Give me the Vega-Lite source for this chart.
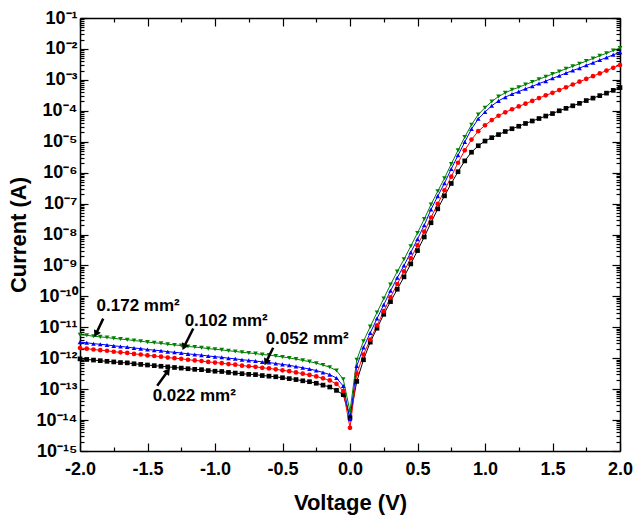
{
  "$schema": "https://vega.github.io/schema/vega-lite/v6.json",
  "width": 540,
  "height": 433,
  "autosize": "none",
  "padding": {"left": 80, "top": 18, "right": 19, "bottom": 74},
  "background": "white",
  "config": {
    "view": {"stroke": null},
    "font": "Liberation Sans",
    "axis": {
      "grid": false,
      "domainColor": "black",
      "domainWidth": 1.5,
      "tickColor": "black",
      "tickWidth": 1.2,
      "labelFont": "Liberation Sans",
      "labelFontWeight": "bold",
      "labelFontSize": 18,
      "labelColor": "black",
      "labelFlush": false,
      "labelOverlap": false,
      "titleFont": "Liberation Sans",
      "titleFontWeight": "bold",
      "titleFontSize": 22,
      "titleColor": "black"
    }
  },
  "datasets": {
    "iv": [
      {"v": -2.00, "k": 9.55e-13, "r": 2.14e-12, "b": 3.31e-12, "g": 5.75e-12},
      {"v": -1.95, "k": 9.12e-13, "r": 2.04e-12, "b": 3.16e-12, "g": 5.50e-12},
      {"v": -1.90, "k": 8.71e-13, "r": 1.91e-12, "b": 2.95e-12, "g": 5.13e-12},
      {"v": -1.85, "k": 8.32e-13, "r": 1.82e-12, "b": 2.82e-12, "g": 4.90e-12},
      {"v": -1.80, "k": 7.94e-13, "r": 1.74e-12, "b": 2.69e-12, "g": 4.68e-12},
      {"v": -1.75, "k": 7.59e-13, "r": 1.62e-12, "b": 2.51e-12, "g": 4.37e-12},
      {"v": -1.70, "k": 7.24e-13, "r": 1.55e-12, "b": 2.40e-12, "g": 4.17e-12},
      {"v": -1.65, "k": 7.08e-13, "r": 1.48e-12, "b": 2.29e-12, "g": 3.98e-12},
      {"v": -1.60, "k": 6.61e-13, "r": 1.38e-12, "b": 2.14e-12, "g": 3.72e-12},
      {"v": -1.55, "k": 6.31e-13, "r": 1.32e-12, "b": 2.04e-12, "g": 3.55e-12},
      {"v": -1.50, "k": 6.03e-13, "r": 1.23e-12, "b": 1.91e-12, "g": 3.31e-12},
      {"v": -1.45, "k": 5.75e-13, "r": 1.18e-12, "b": 1.82e-12, "g": 3.16e-12},
      {"v": -1.40, "k": 5.50e-13, "r": 1.12e-12, "b": 1.74e-12, "g": 3.02e-12},
      {"v": -1.35, "k": 5.25e-13, "r": 1.05e-12, "b": 1.62e-12, "g": 2.82e-12},
      {"v": -1.30, "k": 5.01e-13, "r": 1.00e-12, "b": 1.55e-12, "g": 2.69e-12},
      {"v": -1.25, "k": 4.79e-13, "r": 9.55e-13, "b": 1.48e-12, "g": 2.57e-12},
      {"v": -1.20, "k": 4.57e-13, "r": 8.91e-13, "b": 1.38e-12, "g": 2.40e-12},
      {"v": -1.15, "k": 4.37e-13, "r": 8.51e-13, "b": 1.32e-12, "g": 2.29e-12},
      {"v": -1.10, "k": 4.27e-13, "r": 8.13e-13, "b": 1.26e-12, "g": 2.19e-12},
      {"v": -1.05, "k": 3.98e-13, "r": 7.59e-13, "b": 1.18e-12, "g": 2.04e-12},
      {"v": -1.00, "k": 3.80e-13, "r": 7.24e-13, "b": 1.12e-12, "g": 1.95e-12},
      {"v": -0.95, "k": 3.72e-13, "r": 6.92e-13, "b": 1.07e-12, "g": 1.86e-12},
      {"v": -0.90, "k": 3.47e-13, "r": 6.46e-13, "b": 1.00e-12, "g": 1.74e-12},
      {"v": -0.85, "k": 3.31e-13, "r": 6.17e-13, "b": 9.55e-13, "g": 1.66e-12},
      {"v": -0.80, "k": 3.16e-13, "r": 5.75e-13, "b": 8.91e-13, "g": 1.55e-12},
      {"v": -0.75, "k": 3.02e-13, "r": 5.50e-13, "b": 8.51e-13, "g": 1.48e-12},
      {"v": -0.70, "k": 2.95e-13, "r": 5.25e-13, "b": 8.13e-13, "g": 1.41e-12},
      {"v": -0.65, "k": 2.75e-13, "r": 4.90e-13, "b": 7.59e-13, "g": 1.32e-12},
      {"v": -0.60, "k": 2.63e-13, "r": 4.68e-13, "b": 7.24e-13, "g": 1.26e-12},
      {"v": -0.55, "k": 2.51e-13, "r": 4.37e-13, "b": 6.76e-13, "g": 1.18e-12},
      {"v": -0.50, "k": 2.34e-13, "r": 4.07e-13, "b": 6.31e-13, "g": 1.10e-12},
      {"v": -0.45, "k": 2.19e-13, "r": 3.80e-13, "b": 5.89e-13, "g": 1.02e-12},
      {"v": -0.40, "k": 2.04e-13, "r": 3.47e-13, "b": 5.37e-13, "g": 9.33e-13},
      {"v": -0.35, "k": 1.86e-13, "r": 3.16e-13, "b": 4.90e-13, "g": 8.51e-13},
      {"v": -0.30, "k": 1.74e-13, "r": 2.88e-13, "b": 4.47e-13, "g": 7.76e-13},
      {"v": -0.25, "k": 1.55e-13, "r": 2.57e-13, "b": 3.98e-13, "g": 6.92e-13},
      {"v": -0.20, "k": 1.35e-13, "r": 2.24e-13, "b": 3.47e-13, "g": 6.03e-13},
      {"v": -0.15, "k": 1.17e-13, "r": 1.91e-13, "b": 2.95e-13, "g": 5.13e-13},
      {"v": -0.10, "k": 9.12e-14, "r": 1.48e-13, "b": 2.29e-13, "g": 3.98e-13},
      {"v": -0.05, "k": 6.61e-14, "r": 8.71e-14, "b": 1.26e-13, "g": 2.09e-13},
      {"v": 0.00, "k": 1.2e-14, "r": 5.62e-15, "b": 1.07e-14, "g": 1.91e-14},
      {"v": 0.05, "k": 1.78e-13, "r": 3.16e-13, "b": 5.62e-13, "g": 8.91e-13},
      {"v": 0.10, "k": 8.91e-13, "r": 1.32e-12, "b": 2.24e-12, "g": 3.55e-12},
      {"v": 0.15, "k": 3.31e-12, "r": 3.98e-12, "b": 6.61e-12, "g": 1.05e-11},
      {"v": 0.20, "k": 9.33e-12, "r": 1.15e-11, "b": 1.91e-11, "g": 3.02e-11},
      {"v": 0.25, "k": 2.63e-11, "r": 3.31e-11, "b": 5.37e-11, "g": 8.51e-11},
      {"v": 0.30, "k": 6.76e-11, "r": 9.33e-11, "b": 1.51e-10, "g": 2.40e-10},
      {"v": 0.35, "k": 1.70e-10, "r": 2.51e-10, "b": 3.98e-10, "g": 6.31e-10},
      {"v": 0.40, "k": 4.27e-10, "r": 6.46e-10, "b": 1.00e-9, "g": 1.58e-9},
      {"v": 0.45, "k": 1.12e-9, "r": 1.70e-9, "b": 2.63e-9, "g": 4.17e-9},
      {"v": 0.50, "k": 3.02e-9, "r": 4.47e-9, "b": 7.08e-9, "g": 1.12e-8},
      {"v": 0.55, "k": 8.32e-9, "r": 1.23e-8, "b": 2.00e-8, "g": 3.16e-8},
      {"v": 0.60, "k": 2.40e-8, "r": 3.55e-8, "b": 6.46e-8, "g": 9.33e-8},
      {"v": 0.65, "k": 6.76e-8, "r": 9.77e-8, "b": 1.74e-7, "g": 2.51e-7},
      {"v": 0.70, "k": 1.78e-7, "r": 2.69e-7, "b": 4.57e-7, "g": 6.61e-7},
      {"v": 0.75, "k": 4.47e-7, "r": 7.41e-7, "b": 1.32e-6, "g": 1.91e-6},
      {"v": 0.80, "k": 1.07e-6, "r": 2.09e-6, "b": 3.63e-6, "g": 5.25e-6},
      {"v": 0.85, "k": 2.40e-6, "r": 5.25e-6, "b": 9.77e-6, "g": 1.41e-5},
      {"v": 0.90, "k": 4.57e-6, "r": 1.17e-5, "b": 2.57e-5, "g": 3.55e-5},
      {"v": 0.95, "k": 7.41e-6, "r": 2.19e-5, "b": 5.50e-5, "g": 7.59e-5},
      {"v": 1.00, "k": 1.05e-5, "r": 3.39e-5, "b": 9.12e-5, "g": 1.26e-4},
      {"v": 1.05, "k": 1.35e-5, "r": 5.01e-5, "b": 1.45e-4, "g": 2.00e-4},
      {"v": 1.10, "k": 1.70e-5, "r": 6.92e-5, "b": 2.09e-4, "g": 2.88e-4},
      {"v": 1.15, "k": 2.14e-5, "r": 8.91e-5, "b": 2.75e-4, "g": 3.80e-4},
      {"v": 1.20, "k": 2.63e-5, "r": 1.12e-4, "b": 3.47e-4, "g": 4.79e-4},
      {"v": 1.25, "k": 3.16e-5, "r": 1.38e-4, "b": 4.17e-4, "g": 5.75e-4},
      {"v": 1.30, "k": 3.89e-5, "r": 1.70e-4, "b": 5.13e-4, "g": 7.08e-4},
      {"v": 1.35, "k": 4.68e-5, "r": 2.09e-4, "b": 6.17e-4, "g": 8.51e-4},
      {"v": 1.40, "k": 5.62e-5, "r": 2.57e-4, "b": 7.59e-4, "g": 1.05e-3},
      {"v": 1.45, "k": 6.76e-5, "r": 3.16e-4, "b": 9.12e-4, "g": 1.26e-3},
      {"v": 1.50, "k": 8.13e-5, "r": 3.80e-4, "b": 1.12e-3, "g": 1.55e-3},
      {"v": 1.55, "k": 1.00e-4, "r": 4.68e-4, "b": 1.35e-3, "g": 1.86e-3},
      {"v": 1.60, "k": 1.20e-4, "r": 5.75e-4, "b": 1.66e-3, "g": 2.29e-3},
      {"v": 1.65, "k": 1.45e-4, "r": 7.08e-4, "b": 2.00e-3, "g": 2.75e-3},
      {"v": 1.70, "k": 1.74e-4, "r": 8.71e-4, "b": 2.40e-3, "g": 3.31e-3},
      {"v": 1.75, "k": 2.14e-4, "r": 1.07e-3, "b": 2.95e-3, "g": 4.07e-3},
      {"v": 1.80, "k": 2.57e-4, "r": 1.32e-3, "b": 3.55e-3, "g": 4.90e-3},
      {"v": 1.85, "k": 3.09e-4, "r": 1.62e-3, "b": 4.37e-3, "g": 6.03e-3},
      {"v": 1.90, "k": 3.72e-4, "r": 2.00e-3, "b": 5.25e-3, "g": 7.24e-3},
      {"v": 1.95, "k": 4.57e-4, "r": 2.45e-3, "b": 6.46e-3, "g": 8.91e-3},
      {"v": 2.00, "k": 5.62e-4, "r": 3.02e-3, "b": 7.76e-3, "g": 1.07e-2}
    ],
    "notes": [
      {"t": "0.172 mm²", "tx": -1.569, "ty": 5.06e-11, "ax": -1.828, "ay": 1.91e-11, "hx": -1.882, "hy": 6.05e-12},
      {"t": "0.102 mm²", "tx": -0.917, "ty": 1.65e-11, "ax": -1.161, "ay": 9.12e-12, "hx": -1.230, "hy": 2.30e-12},
      {"t": "0.052 mm²", "tx": -0.317, "ty": 4.30e-12, "ax": -0.569, "ay": 2.19e-12, "hx": -0.622, "hy": 7.48e-13},
      {"t": "0.022 mm²", "tx": -1.154, "ty": 6.08e-14, "ax": -1.428, "ay": 1.29e-13, "hx": -1.349, "hy": 3.88e-13}
    ]
  },
  "resolve": {"axis": {"x": "independent", "y": "independent"}},
  "layer": [
    {
      "data": {"name": "iv"},
      "transform": [{"fold": ["k", "r", "b", "g"], "as": ["s", "i"]}],
      "mark": {"type": "line", "strokeWidth": 1},
      "encoding": {
        "x": {
          "field": "v", "type": "quantitative",
          "scale": {"domain": [-2, 2], "nice": false, "zero": false},
          "axis": {
            "orient": "bottom", "title": "Voltage (V)", "titlePadding": 10,
            "values": [-2, -1.75, -1.5, -1.25, -1, -0.75, -0.5, -0.25, 0, 0.25, 0.5, 0.75, 1, 1.25, 1.5, 1.75, 2],
            "labelExpr": "abs(datum.value*2 - round(datum.value*2)) < 0.001 ? replace(format(datum.value, '.1f'), '\u2212', '-') : ''",
            "tickSize": {"condition": {"test": "abs(datum.value*2 - round(datum.value*2)) < 0.001", "value": -8}, "value": -4},
            "labelPadding": 17
          }
        },
        "y": {
          "field": "i", "type": "quantitative",
          "scale": {"type": "log", "domain": [1e-15, 0.1], "nice": false},
          "axis": {
            "orient": "left", "title": "Current (A)", "titlePadding": 6,
            "values": [1e-15,2e-15,3e-15,4e-15,5e-15,6e-15,7e-15,8e-15,9e-15,1e-14,2e-14,3e-14,4e-14,5e-14,6e-14,7e-14,8e-14,9e-14,1e-13,2e-13,3e-13,4e-13,5e-13,6e-13,7e-13,8e-13,9e-13,1e-12,2e-12,3e-12,4e-12,5e-12,6e-12,7e-12,8e-12,9e-12,1e-11,2e-11,3e-11,4e-11,5e-11,6e-11,7e-11,8e-11,9e-11,1e-10,2e-10,3e-10,4e-10,5e-10,6e-10,7e-10,8e-10,9e-10,1e-9,2e-9,3e-9,4e-9,5e-9,6e-9,7e-9,8e-9,9e-9,1e-8,2e-8,3e-8,4e-8,5e-8,6e-8,7e-8,8e-8,9e-8,1e-7,2e-7,3e-7,4e-7,5e-7,6e-7,7e-7,8e-7,9e-7,1e-6,2e-6,3e-6,4e-6,5e-6,6e-6,7e-6,8e-6,9e-6,1e-5,2e-5,3e-5,4e-5,5e-5,6e-5,7e-5,8e-5,9e-5,1e-4,2e-4,3e-4,4e-4,5e-4,6e-4,7e-4,8e-4,9e-4,1e-3,2e-3,3e-3,4e-3,5e-3,6e-3,7e-3,8e-3,9e-3,1e-2,2e-2,3e-2,4e-2,5e-2,6e-2,7e-2,8e-2,9e-2,1e-1],
            "labelExpr": "abs(log(datum.value)/LN10 - round(log(datum.value)/LN10)) < 0.01 ? ['10⁰','10⁻¹','10⁻²','10⁻³','10⁻⁴','10⁻⁵','10⁻⁶','10⁻⁷','10⁻⁸','10⁻⁹','10⁻¹⁰','10⁻¹¹','10⁻¹²','10⁻¹³','10⁻¹⁴','10⁻¹⁵'][-round(log(datum.value)/LN10)] : ''",
            "tickSize": {"condition": {"test": "abs(log(datum.value)/LN10 - round(log(datum.value)/LN10)) < 0.01", "value": -8}, "value": -4},
            "labelPadding": 11
          }
        },
        "color": {"field": "s", "type": "nominal", "scale": {"domain": ["k", "r", "b", "g"], "range": ["#000000", "#ff0000", "#0000ff", "#008000"]}, "legend": null}
      }
    },
    {
      "data": {"name": "iv"},
      "transform": [{"fold": ["k", "r", "b", "g"], "as": ["s", "i"]}],
      "mark": {"type": "point", "filled": true, "size": 22, "opacity": 1},
      "encoding": {
        "x": {
          "field": "v", "type": "quantitative",
          "scale": {"domain": [-2, 2], "nice": false, "zero": false},
          "axis": {
            "orient": "top", "title": null, "labels": false,
            "values": [-2, -1.75, -1.5, -1.25, -1, -0.75, -0.5, -0.25, 0, 0.25, 0.5, 0.75, 1, 1.25, 1.5, 1.75, 2],
            "tickSize": {"condition": {"test": "abs(datum.value*2 - round(datum.value*2)) < 0.001", "value": -8}, "value": -4}
          }
        },
        "y": {
          "field": "i", "type": "quantitative",
          "scale": {"type": "log", "domain": [1e-15, 0.1], "nice": false},
          "axis": {
            "orient": "right", "title": null, "labels": false,
            "values": [1e-15,2e-15,3e-15,4e-15,5e-15,6e-15,7e-15,8e-15,9e-15,1e-14,2e-14,3e-14,4e-14,5e-14,6e-14,7e-14,8e-14,9e-14,1e-13,2e-13,3e-13,4e-13,5e-13,6e-13,7e-13,8e-13,9e-13,1e-12,2e-12,3e-12,4e-12,5e-12,6e-12,7e-12,8e-12,9e-12,1e-11,2e-11,3e-11,4e-11,5e-11,6e-11,7e-11,8e-11,9e-11,1e-10,2e-10,3e-10,4e-10,5e-10,6e-10,7e-10,8e-10,9e-10,1e-9,2e-9,3e-9,4e-9,5e-9,6e-9,7e-9,8e-9,9e-9,1e-8,2e-8,3e-8,4e-8,5e-8,6e-8,7e-8,8e-8,9e-8,1e-7,2e-7,3e-7,4e-7,5e-7,6e-7,7e-7,8e-7,9e-7,1e-6,2e-6,3e-6,4e-6,5e-6,6e-6,7e-6,8e-6,9e-6,1e-5,2e-5,3e-5,4e-5,5e-5,6e-5,7e-5,8e-5,9e-5,1e-4,2e-4,3e-4,4e-4,5e-4,6e-4,7e-4,8e-4,9e-4,1e-3,2e-3,3e-3,4e-3,5e-3,6e-3,7e-3,8e-3,9e-3,1e-2,2e-2,3e-2,4e-2,5e-2,6e-2,7e-2,8e-2,9e-2,1e-1],
            "tickSize": {"condition": {"test": "abs(log(datum.value)/LN10 - round(log(datum.value)/LN10)) < 0.01", "value": -8}, "value": -4}
          }
        },
        "color": {"field": "s", "type": "nominal", "scale": {"domain": ["k", "r", "b", "g"], "range": ["#000000", "#ff0000", "#0000ff", "#008000"]}, "legend": null},
        "shape": {"field": "s", "type": "nominal", "scale": {"domain": ["k", "r", "b", "g"], "range": ["square", "circle", "triangle-up", "triangle-down"]}, "legend": null}
      }
    },
    {
      "data": {"name": "notes"},
      "mark": {"type": "rule", "color": "black", "strokeWidth": 2.5},
      "encoding": {
        "x": {"field": "ax", "type": "quantitative", "axis": null},
        "y": {"field": "ay", "type": "quantitative", "axis": null},
        "x2": {"field": "hx"},
        "y2": {"field": "hy"}
      }
    },
    {
      "data": {"name": "notes"},
      "transform": [{"filter": "datum.t != '0.022 mm²'"}],
      "mark": {"type": "point", "shape": "triangle-up", "filled": true, "color": "black", "size": 60, "angle": 206, "opacity": 1},
      "encoding": {
        "x": {"field": "hx", "type": "quantitative", "axis": null},
        "y": {"field": "hy", "type": "quantitative", "axis": null}
      }
    },
    {
      "data": {"name": "notes"},
      "transform": [{"filter": "datum.t == '0.022 mm²'"}],
      "mark": {"type": "point", "shape": "triangle-up", "filled": true, "color": "black", "size": 60, "angle": 36, "opacity": 1},
      "encoding": {
        "x": {"field": "hx", "type": "quantitative", "axis": null},
        "y": {"field": "hy", "type": "quantitative", "axis": null}
      }
    },
    {
      "data": {"name": "notes"},
      "mark": {"type": "text", "font": "Liberation Sans", "fontWeight": "bold", "fontSize": 17, "color": "black", "align": "center", "baseline": "middle"},
      "encoding": {
        "x": {"field": "tx", "type": "quantitative", "axis": null},
        "y": {"field": "ty", "type": "quantitative", "axis": null},
        "text": {"field": "t"}
      }
    }
  ]
}
